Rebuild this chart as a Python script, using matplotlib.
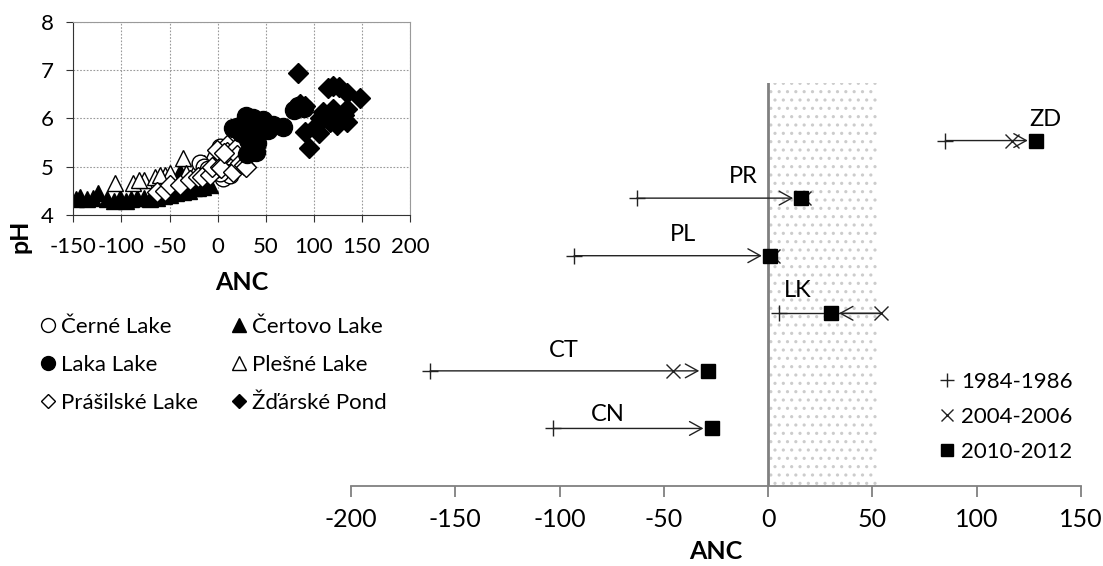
import numpy as np
import matplotlib
matplotlib.use("Agg")
import matplotlib.pyplot as plt
from matplotlib.lines import Line2D

plt.rcParams['font.family'] = ['Lato', 'DejaVu Sans']
plt.rcParams['axes.unicode_minus'] = False
plt.rcParams['hatch.linewidth'] = 1.1

# ---- main chart data (ANC per period) ----
sites = ['ZD', 'PR', 'PL', 'LK', 'CT', 'CN']
site_y = [6, 5, 4, 3, 2, 1]
anc_1984 = [85, -63, -93, 5, -162, -103]
anc_2004 = [117, 17, 2.5, 54, -45.5, np.nan]
anc_2010 = [128.5, 16, 1, 30, -29, -27]
label_x = [133, -12, -41, 14, -98, -77]
label_dy = [0.36, 0.37, 0.37, 0.4, 0.36, 0.24]
years = ['1984-1986', '2004-2006', '2010-2012']

# ---- inset data (ANC vs pH) ----
cerne_anc = [-18, -14, 2, 6, 13, 2, -4, 16, 8, -10]
cerne_ph = [5.07, 5.0, 5.41, 4.76, 4.83, 4.87, 4.93, 5.0, 5.2, 4.95]
certovo_anc = [-147, -143, -136, -130, -124, -115, -108, -101, -95, -90, -84, -77,
               -70, -63, -56, -50, -43, -36, -30, -25, -20, -15, -8, -39]
certovo_ph = [4.33, 4.38, 4.33, 4.35, 4.45, 4.33, 4.3, 4.35, 4.3, 4.33, 4.35, 4.36,
              4.33, 4.36, 4.4, 4.41, 4.45, 4.48, 4.5, 4.55, 4.56, 4.58, 4.62, 4.9]
laka_anc = [16, 20, 27, 30, 37, 47, 58, 68, 41, 41, 40, 32, 31, 36, 79, 84, 90, 30, 24, 45, 52]
laka_ph = [5.8, 5.83, 5.9, 6.04, 6.0, 5.97, 5.86, 5.83, 5.69, 5.48, 5.3, 5.55, 5.26, 5.37,
           6.17, 6.25, 6.22, 5.75, 5.7, 5.8, 5.75]
plesne_anc = [-107, -88, -77, -65, -55, -49, -36, -33, -21, -14, -8, -82, -60]
plesne_ph = [4.66, 4.66, 4.72, 4.79, 4.82, 4.86, 5.17, 4.86, 5.0, 5.07, 5.17, 4.72, 4.82]
prasilske_anc = [-63, -55, -49, -39, -29, -20, -16, -8, -6, 2.5, 4, 9.5, 9.5, 16, 20, 20,
                 23, 27, 30, -1, 6.5]
prasilske_ph = [4.48, 4.5, 4.62, 4.62, 4.73, 4.78, 4.79, 4.83, 5.0, 5.0, 4.97, 5.45, 5.3,
                4.88, 5.4, 5.24, 5.07, 5.03, 5.0, 5.35, 5.28]
zdarske_anc = [84, 115, 120, 126, 134, 148, 134, 120, 110, 134, 117, 124, 106, 103, 91,
               105, 95, 91, 86, 131]
zdarske_ph = [6.93, 6.62, 6.67, 6.64, 6.52, 6.42, 6.2, 6.2, 6.13, 5.93, 5.93, 5.86, 6.0,
              5.86, 5.72, 5.69, 5.38, 6.26, 6.3, 6.07]

fig = plt.figure(figsize=(11.03, 5.66), dpi=100)

# ================= main chart =================
ax = fig.add_axes([0.3182, 0.1413, 0.6618, 0.7121])
ax.set_xlim(-200, 150)
ax.set_ylim(0, 7)
ax.axvspan(0, 52, facecolor='white', edgecolor='#cccccc', hatch='..', lw=0, zorder=0)
ax.axvline(0, color='#808080', lw=2, zorder=1)
for s in ['left', 'top', 'right']:
    ax.spines[s].set_visible(False)
ax.spines['bottom'].set_color('#808080')
ax.spines['bottom'].set_linewidth(1.3)
ax.set_xticks(np.arange(-200, 151, 50))
ax.set_yticks([])
ax.tick_params(axis='x', direction='out', length=8, width=1.3, color='#808080',
               labelsize=18, pad=8)
ax.set_xlabel('ANC', fontsize=18, fontweight='bold', labelpad=6)

arrow_kw = dict(arrowstyle='->,head_length=0.6,head_width=0.33', color='#222222',
                lw=1.0, shrinkA=0, shrinkB=6, mutation_scale=15)
for i in range(len(sites)):
    y = site_y[i]
    a, b, c = anc_1984[i], anc_2004[i], anc_2010[i]
    d = np.sign(c - a)
    start = a
    if not np.isnan(b) and (b - c) * d > 5:
        # 2004 value overshoots: plain line to it, arrow back to 2010
        ax.plot([a, b], [y, y], color='#222222', lw=1.0, zorder=2)
        start = b
    ax.annotate('', xy=(c, y), xytext=(start, y), arrowprops=arrow_kw, zorder=2)
    ax.text(label_x[i], y + label_dy[i], sites[i], fontsize=17, ha='center', va='center')

ax.plot(anc_1984, site_y, ls='none', marker='+', ms=11, mew=1.0, color='#222222',
        zorder=3, label=years[0])
ax.plot(anc_2004, site_y, ls='none', marker='x', ms=10, mew=1.0, color='#222222',
        zorder=3, label=years[1])
ax.plot(anc_2010, site_y, ls='none', marker='s', ms=10, color='black',
        zorder=4, label=years[2])
ax.legend(loc='upper left', bbox_to_anchor=(0.833, 0.378), bbox_transform=fig.transFigure,
          frameon=False, fontsize=16, handlelength=0.7, handletextpad=0.3,
          labelspacing=0.68, markerscale=0.9)

# ================= inset scatter =================
axin = fig.add_axes([0.0665, 0.6201, 0.3052, 0.3416])
axin.set_xlim(-150, 200)
axin.set_ylim(4, 8)
axin.set_xticks(np.arange(-150, 201, 50))
axin.set_yticks([4, 5, 6, 7, 8])
axin.grid(True, ls=(0, (1.5, 1.5)), color='#9a9a9a', lw=0.8)
axin.set_axisbelow(True)
for s in ['top', 'right']:
    axin.spines[s].set_color('#9a9a9a')
for s in ['left', 'bottom']:
    axin.spines[s].set_color('#333333')
axin.tick_params(direction='out', length=5, labelsize=16, color='#333333')
axin.tick_params(axis='x', pad=11)
axin.tick_params(axis='y', pad=9)
axin.set_xlabel('ANC', fontsize=18, fontweight='bold', labelpad=10)
axin.set_ylabel('pH', fontsize=18, fontweight='bold')
axin.yaxis.set_label_coords(-0.125, -0.11)

mk = dict(ls='none', mew=1.0, mec='black')
axin.plot(certovo_anc, certovo_ph, marker='^', mfc='black', ms=12, **mk)
axin.plot(plesne_anc, plesne_ph, marker='^', mfc='white', ms=12, **mk)
axin.plot(cerne_anc, cerne_ph, marker='o', mfc='white', ms=12, **mk)
axin.plot(prasilske_anc, prasilske_ph, marker='D', mfc='white', ms=10, **mk)
axin.plot(laka_anc, laka_ph, marker='o', mfc='black', ms=13, **mk)
axin.plot(zdarske_anc, zdarske_ph, marker='D', mfc='black', ms=10, **mk)

handles = [
    Line2D([], [], ls='none', marker='o', mfc='white', mec='black', ms=10),
    Line2D([], [], ls='none', marker='o', mfc='black', mec='black', ms=10),
    Line2D([], [], ls='none', marker='D', mfc='white', mec='black', ms=7.5),
    Line2D([], [], ls='none', marker='^', mfc='black', mec='black', ms=10),
    Line2D([], [], ls='none', marker='^', mfc='white', mec='black', ms=10),
    Line2D([], [], ls='none', marker='D', mfc='black', mec='black', ms=7.5),
]
names = ['Černé Lake', 'Laka Lake', 'Prášilské Lake',
         'Čertovo Lake', 'Plešné Lake', 'Žďárské Pond']
fig.legend(handles, names, ncol=2, loc='upper left', bbox_to_anchor=(0.018, 0.475),
           frameon=False, fontsize=16, handlelength=0.7, handletextpad=0.25,
           labelspacing=0.8, columnspacing=1.5)

fig.savefig('out.png', dpi=100)
